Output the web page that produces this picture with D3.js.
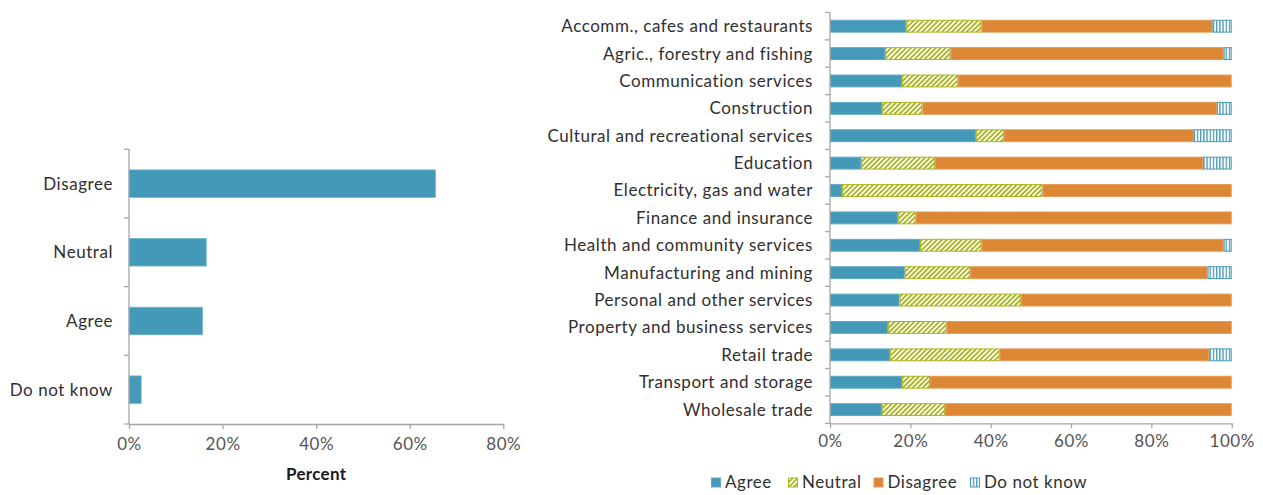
<!DOCTYPE html>
<html><head><meta charset="utf-8">
<script src="https://cdn.jsdelivr.net/npm/d3@7"></script>
<style>
body{margin:0;background:#fff;}
svg{display:block;font-family:Lato,"Open Sans",sans-serif;}
</style></head>
<body>
<svg id="c" width="1263" height="495"></svg>
<script>
// ---- data ----
const responses = ["Disagree","Neutral","Agree","Do not know"];
const responseValues = [65.5, 16.5, 15.7, 2.6];
const leftTicks = [0,20,40,60,80];

const industries = ["Accomm., cafes and restaurants","Agric., forestry and fishing","Communication services","Construction","Cultural and recreational services","Education","Electricity, gas and water","Finance and insurance","Health and community services","Manufacturing and mining","Personal and other services","Property and business services","Retail trade","Transport and storage","Wholesale trade"];
const seriesNames = ["Agree","Neutral","Disagree","Do not know"];
const agreeVals    = [19.0,13.7,17.9,13.0,36.3, 7.7, 3.0,17.0,22.4,18.6,17.3,14.4,14.9,17.9,12.9];
const neutralVals  = [18.7,16.3,14.0,10.0, 7.0,18.4,49.9, 4.3,15.3,16.3,30.2,14.6,27.3, 7.0,15.7];
const disagreeVals = [57.5,68.0,68.1,73.3,47.3,66.8,47.1,78.7,60.3,59.1,52.5,71.0,52.2,75.1,71.4];
const dnkVals      = [ 4.8, 2.0, 0.0, 3.7, 9.4, 7.1, 0.0, 0.0, 2.0, 6.0, 0.0, 0.0, 5.6, 0.0, 0.0];
const rightTicks = [0,20,40,60,80,100];

const svg = d3.select("#c");
const textCol = "#303030", tickCol = "#555555", axisCol = "#a6a6a6";
const blue = "#4499b8", orange = "#dd8734", green = "#a9b51c";
const FS = 17, LS = "0.55px";

// patterns
const defs = svg.append("defs");
const p1 = defs.append("pattern").attr("id","hatch").attr("patternUnits","userSpaceOnUse")
  .attr("width",3.5).attr("height",3.5).attr("patternTransform","rotate(45)");
p1.append("rect").attr("width",3.5).attr("height",3.5).attr("fill",green);
p1.append("rect").attr("width",1.7).attr("height",3.5).attr("fill","#ffffff");
const p2 = defs.append("pattern").attr("id","vstripe").attr("patternUnits","userSpaceOnUse")
  .attr("width",3.2).attr("height",4);
p2.append("rect").attr("width",3.2).attr("height",4).attr("fill","#ffffff");
p2.append("rect").attr("width",1.3).attr("height",4).attr("fill",blue);

// ---- left chart ----
const L = {x0:129, x1:503.3, y0:149.3, y1:424};
const xl = d3.scaleLinear().domain([0,80]).range([L.x0,L.x1]);
const yl = d3.scaleBand().domain(responses).range([L.y0,L.y1]).paddingInner(0.6).paddingOuter(0.3);
const gL = svg.append("g");
gL.selectAll("rect.bar").data(responses).join("rect").attr("class","bar")
  .attr("x",xl(0)).attr("y",d=>yl(d)).attr("height",yl.bandwidth())
  .attr("width",(d,i)=>xl(responseValues[i])-xl(0)).attr("fill",blue)
  .attr("stroke","#6fb3cc").attr("stroke-width",0.8);
// axes
const xAxisL = d3.axisBottom(xl).tickValues(leftTicks).tickFormat(d=>d+"%").tickSize(5).tickSizeOuter(0);
const gxl = gL.append("g").attr("transform",`translate(0,${L.y1})`).call(xAxisL);
const bandL = d3.scaleLinear().domain([0,responses.length]).range([L.y0,L.y1]);
gL.append("g").selectAll("line").data(d3.range(responses.length+1)).join("line")
  .attr("x1",L.x0-5).attr("x2",L.x0).attr("y1",d=>bandL(d)).attr("y2",d=>bandL(d));
gL.append("line").attr("x1",L.x0).attr("x2",L.x0).attr("y1",L.y0).attr("y2",L.y1);
gL.selectAll("line").attr("stroke",axisCol).attr("stroke-width",1.3);
gxl.select(".domain").attr("stroke",axisCol).attr("stroke-width",1.3);
gxl.selectAll(".tick line").attr("stroke",axisCol).attr("stroke-width",1.3);
gxl.selectAll(".tick text").attr("font-size",FS).attr("fill",tickCol).attr("dy","1.05em")
  .attr("font-family","Lato").attr("letter-spacing",LS);
gL.selectAll("text.cat").data(responses).join("text").attr("class","cat")
  .attr("x",113).attr("y",d=>yl(d)+yl.bandwidth()/2).attr("dy","0.35em")
  .attr("text-anchor","end").attr("font-size",FS).attr("letter-spacing",LS).attr("fill",textCol).text(d=>d);
gL.append("text").attr("x",(L.x0+L.x1)/2).attr("y",480).attr("text-anchor","middle")
  .attr("font-size",FS).attr("letter-spacing","0.3px").attr("font-weight","bold").attr("fill","#1a1a1a").text("Percent");

// ---- right chart ----
const R = {x0:830, x1:1231.7, y0:12.5, y1:423.3};
const xr = d3.scaleLinear().domain([0,100]).range([R.x0,R.x1]);
const yr = d3.scaleBand().domain(industries).range([R.y0,R.y1]).paddingInner(0.53).paddingOuter(0.265);
const gR = svg.append("g");
const table = industries.map((c,i)=>({cat:c,"Agree":agreeVals[i],"Neutral":neutralVals[i],"Disagree":disagreeVals[i],"Do not know":dnkVals[i]}));
const stack = d3.stack().keys(seriesNames)(table);
const fills = {"Agree":blue,"Neutral":"url(#hatch)","Disagree":orange,"Do not know":"url(#vstripe)"};
const strokes = {"Agree":"#5ea8c3","Neutral":green,"Disagree":"#e39a55","Do not know":blue};
gR.selectAll("g.s").data(stack).join("g").attr("class","s")
  .each(function(s){
    d3.select(this).selectAll("rect").data(s.filter(d=>d[1]-d[0]>0)).join("rect")
      .attr("x",d=>xr(d[0])+0.5).attr("width",d=>Math.max(0,xr(d[1])-xr(d[0])-1))
      .attr("y",d=>yr(d.data.cat)+0.5).attr("height",yr.bandwidth()-1)
      .attr("fill",fills[s.key]).attr("stroke",strokes[s.key]).attr("stroke-width",1);
  });
const xAxisR = d3.axisBottom(xr).tickValues(rightTicks).tickFormat(d=>d+"%").tickSize(5).tickSizeOuter(0);
const gxr = gR.append("g").attr("transform",`translate(0,${R.y1})`).call(xAxisR);
gxr.select(".domain").attr("stroke",axisCol).attr("stroke-width",1.3);
gxr.selectAll(".tick line").attr("stroke",axisCol).attr("stroke-width",1.3);
gxr.selectAll(".tick text").attr("font-size",FS).attr("fill",tickCol).attr("dy","0.95em")
  .attr("font-family","Lato").attr("letter-spacing",LS);
const bandR = d3.scaleLinear().domain([0,industries.length]).range([R.y0,R.y1]);
const gyr = gR.append("g");
gyr.selectAll("line").data(d3.range(industries.length+1)).join("line")
  .attr("x1",R.x0-5).attr("x2",R.x0).attr("y1",d=>bandR(d)).attr("y2",d=>bandR(d));
gyr.append("line").attr("x1",R.x0).attr("x2",R.x0).attr("y1",R.y0).attr("y2",R.y1);
gyr.selectAll("line").attr("stroke",axisCol).attr("stroke-width",1.3);
gR.selectAll("text.cat").data(industries).join("text").attr("class","cat")
  .attr("x",813).attr("y",d=>yr(d)+yr.bandwidth()/2).attr("dy","0.35em")
  .attr("text-anchor","end").attr("font-size",FS).attr("letter-spacing",LS).attr("fill",textCol).text(d=>d);

// legend
const legX = [711.5, 788.5, 874, 970.5];
const legFill = [blue,"url(#hatch)",orange,"url(#vstripe)"];
const lg = svg.append("g");
seriesNames.forEach((n,i)=>{
  lg.append("rect").attr("x",legX[i]).attr("y",478).attr("width",9).attr("height",9)
    .attr("fill",legFill[i]).attr("stroke",strokes[n]).attr("stroke-width",1);
  lg.append("text").attr("x",legX[i]+13.5).attr("y",482.5).attr("dy","0.35em")
    .attr("font-size",FS).attr("letter-spacing",LS).attr("fill",textCol).text(n);
});
</script>
</body></html>
